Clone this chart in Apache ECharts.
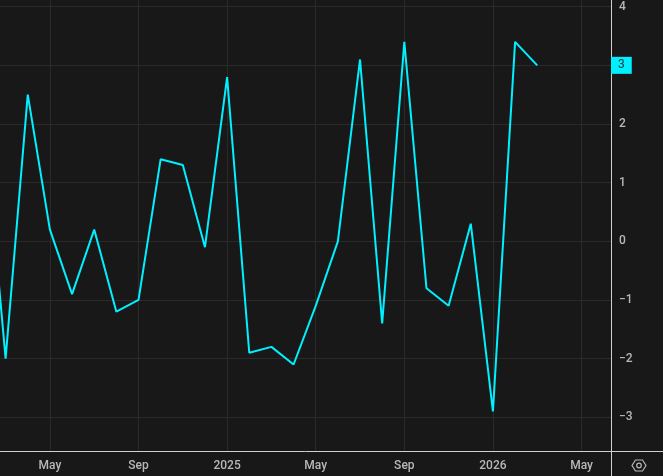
<!DOCTYPE html>
<html>
<head>
<meta charset="utf-8">
<script src="https://cdn.jsdelivr.net/npm/echarts@6/dist/echarts.min.js"></script>
<style>
  html, body { margin: 0; padding: 0; background: #181818; }
  #chart { width: 663px; height: 476px; }
</style>
</head>
<body>
<div id="chart"></div>
<script>
  // monthly readings, Feb 2024 .. Mar 2026
  var months = ['2024-02', '2024-03', '2024-04', '2024-05', '2024-06', '2024-07', '2024-08',
    '2024-09', '2024-10', '2024-11', '2024-12', '2025-01', '2025-02', '2025-03', '2025-04',
    '2025-05', '2025-06', '2025-07', '2025-08', '2025-09', '2025-10', '2025-11', '2025-12',
    '2026-01', '2026-02', '2026-03']
  var values = [2.2, -2.0, 2.5, 0.2, -0.9, 0.2, -1.2, -1.0, 1.4, 1.3, -0.1, 2.8, -1.9, -1.8,
    -2.1, -1.1, 0.0, 3.1, -1.4, 3.4, -0.8, -1.1, 0.3, -2.9, 3.4, 3.0]
  var monthNames = ['Jan', 'Feb', 'Mar', 'Apr', 'May', 'Jun', 'Jul', 'Aug', 'Sep', 'Oct', 'Nov', 'Dec']
  var baseYear = 2024

  // month index counted from Jan 2024
  function monthIndex(s) {
    var p = s.split('-')
    return (parseInt(p[0]) - baseYear) * 12 + parseInt(p[1]) - 1
  }

  var points = months.map(function (m, i) { return [monthIndex(m), values[i]] })
  var lastValue = values[values.length - 1]

  var textColor = '#b8b8b8'
  var gridColor = '#2a2a2a'
  var axisColor = '#d0d0d0'

  var chart = echarts.init(document.getElementById('chart'))
  chart.setOption({
    animation: false,
    backgroundColor: '#181818',
    grid: { left: 0, right: 52, top: 0, bottom: 25, containLabel: false },
    xAxis: {
      type: 'value',
      min: 1.747,
      max: 29.33,
      minInterval: 4,
      maxInterval: 4,
      axisLine: { show: true, onZero: false, lineStyle: { color: axisColor, width: 1 } },
      axisTick: { show: false },
      splitLine: { show: true, showMinLine: false, showMaxLine: false, lineStyle: { color: gridColor, width: 1 } },
      axisLabel: {
        showMinLabel: false,
        showMaxLabel: false,
        margin: 9,
        color: textColor,
        fontFamily: 'Roboto',
        fontWeight: 500,
        fontSize: 12,
        formatter: function (v) {
          var m = Math.round(v)
          if (m % 12 === 0) return String(baseYear + m / 12)
          return monthNames[((m % 12) + 12) % 12]
        }
      }
    },
    yAxis: {
      type: 'value',
      position: 'right',
      min: -3.575,
      max: 4.114,
      minInterval: 1,
      maxInterval: 1,
      axisLine: { show: true, onZero: false, lineStyle: { color: axisColor, width: 1 } },
      axisTick: { show: false },
      splitLine: { show: true, showMinLine: false, showMaxLine: false, lineStyle: { color: gridColor, width: 1 } },
      axisLabel: {
        showMinLabel: false,
        showMaxLabel: false,
        margin: 8,
        color: textColor,
        fontFamily: 'Roboto',
        fontWeight: 500,
        fontSize: 12,
        formatter: function (v) {
          return String(Math.round(v)).replace('-', '\u2212')
        }
      }
    },
    series: [{
      type: 'line',
      data: points,
      showSymbol: false,
      clip: true,
      lineStyle: { color: '#00f0ff', width: 2 },
      itemStyle: { color: '#00f0ff' },
      markLine: {
        silent: true,
        symbol: 'none',
        lineStyle: { color: 'transparent', width: 0 },
        data: [{ yAxis: lastValue }],
        label: {
          show: true,
          position: 'end',
          distance: 0,
          formatter: String(lastValue),
          backgroundColor: '#00f0ff',
          color: '#0d3a3a',
          fontFamily: 'Roboto',
          fontSize: 12,
          padding: [3, 7, 2, 7]
        }
      }
    }],
    graphic: [
      // axis lines run on through the corner
      { type: 'line', shape: { x1: 611, y1: 451.5, x2: 663, y2: 451.5 }, style: { stroke: axisColor, lineWidth: 1 } },
      { type: 'line', shape: { x1: 611.5, y1: 451, x2: 611.5, y2: 476 }, style: { stroke: axisColor, lineWidth: 1 } },
      // settings icon
      {
        type: 'polygon',
        shape: { points: [[632, 465.5], [635.5, 460], [642.5, 460], [646, 465.5], [642.5, 471], [635.5, 471]] },
        style: { fill: 'none', stroke: textColor, lineWidth: 1.2 }
      },
      { type: 'circle', shape: { cx: 639, cy: 465.5, r: 2.3 }, style: { fill: 'none', stroke: textColor, lineWidth: 1.2 } }
    ]
  })
</script>
</body>
</html>
